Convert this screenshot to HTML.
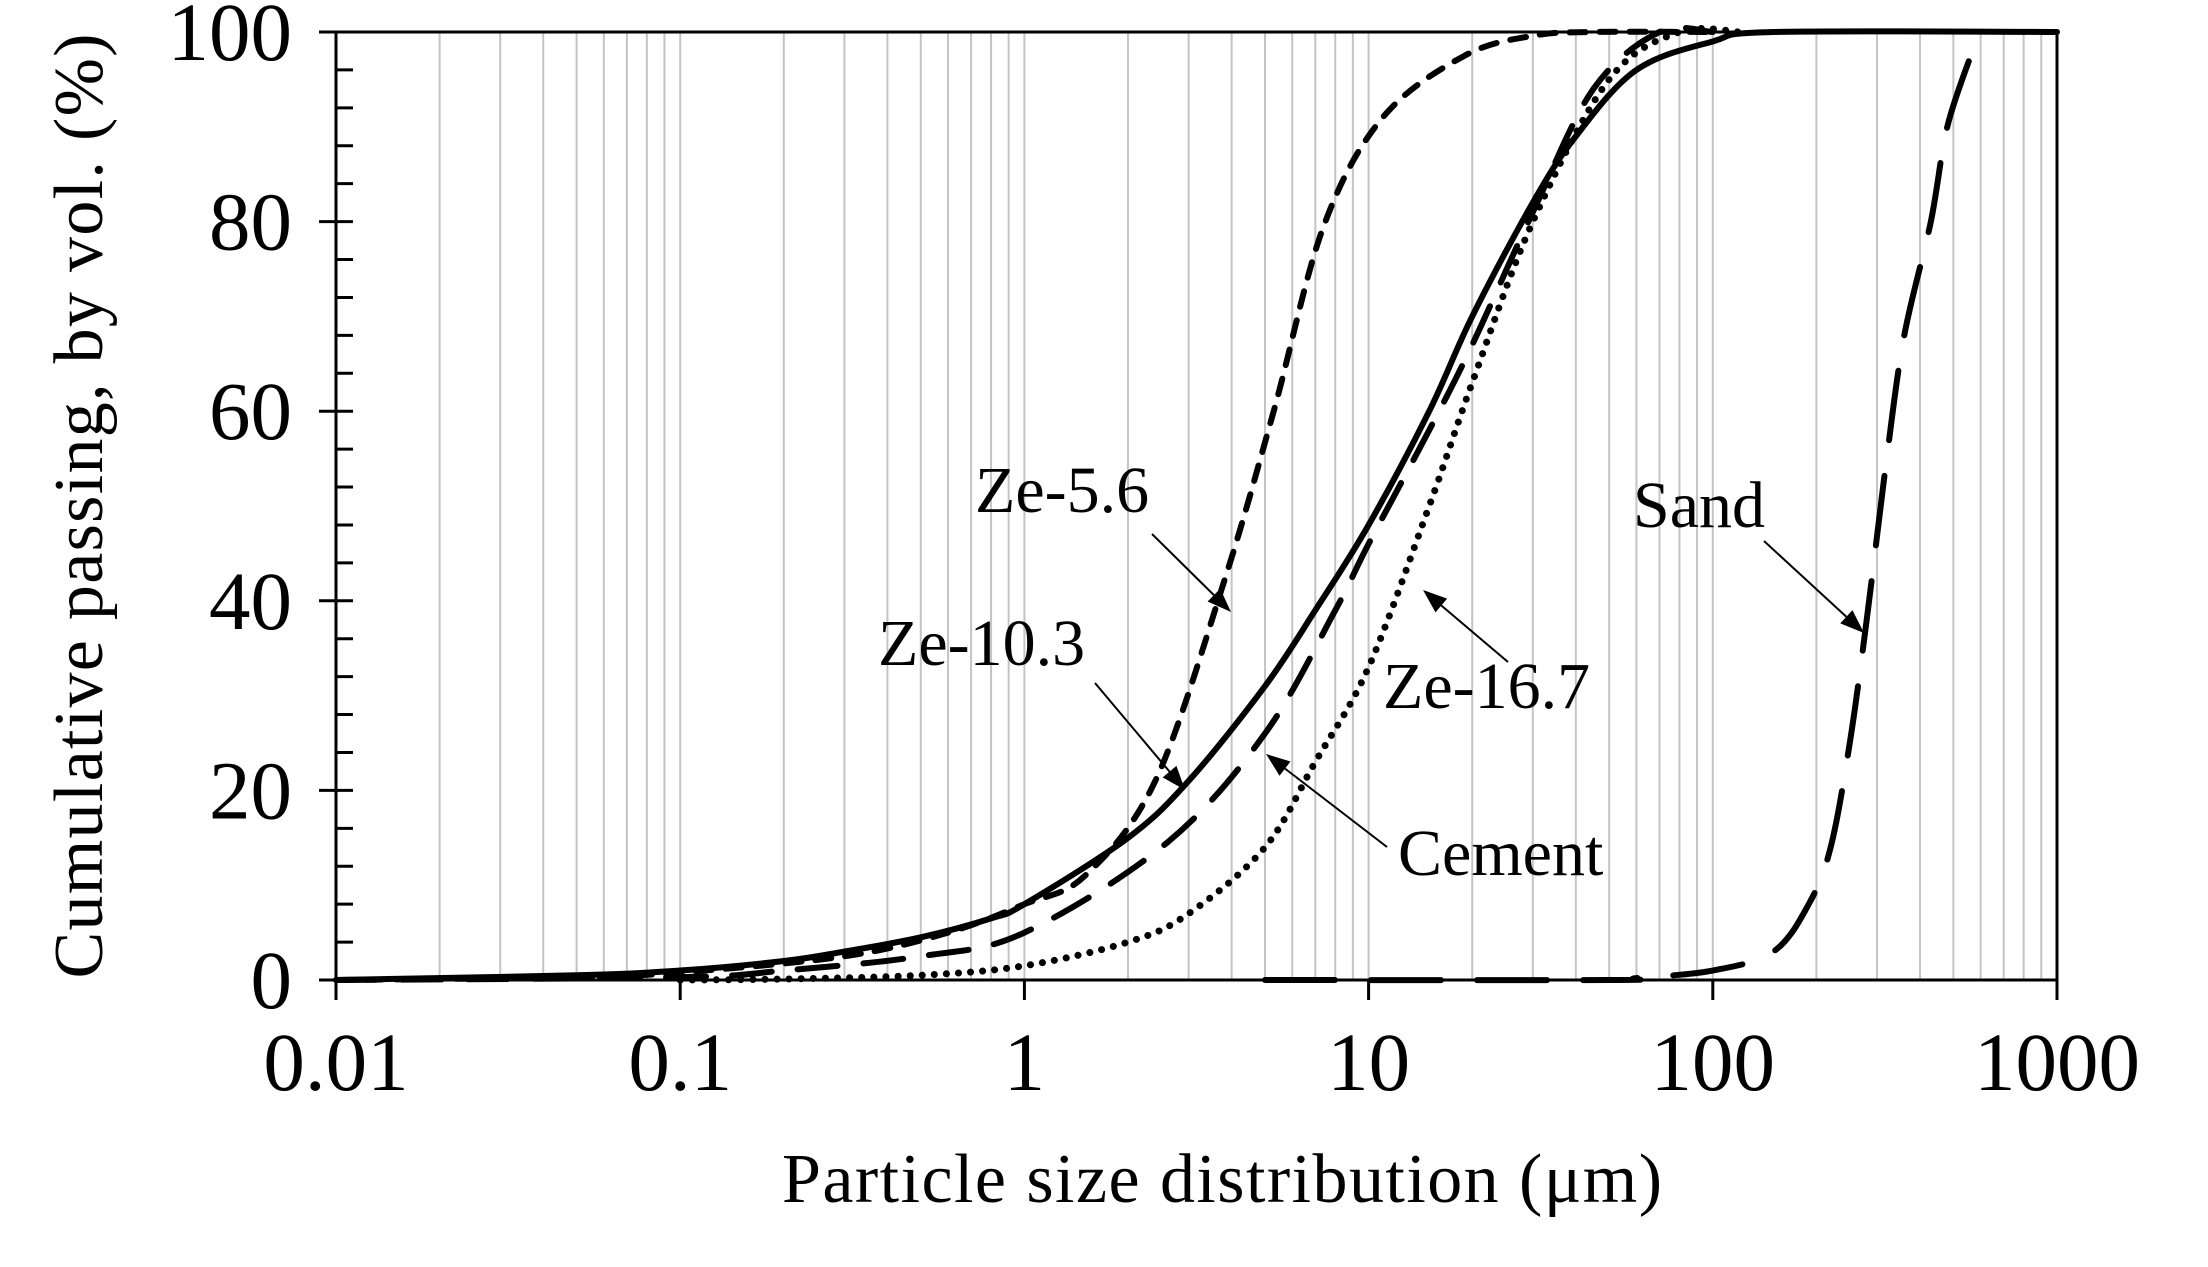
<!DOCTYPE html>
<html><head><meta charset="utf-8"><style>
html,body{margin:0;padding:0;background:#fff}
svg{display:block}
text{font-family:"Liberation Serif",serif;fill:#000}
</style></head><body>
<svg id="s" width="2208" height="1267" viewBox="0 0 2208 1267" xmlns="http://www.w3.org/2000/svg"></svg>
<script>
const L=336,R=2057,T=32,B=980;
const X=v=>L+(Math.log10(v)+2)*(R-L)/5;
const Y=v=>B-v*(B-T)/100;
let h='';
for(let d=-2;d<3;d++)for(let k=1;k<=9;k++){const v=k*Math.pow(10,d);if(d==-2&&k==1)continue;const x=X(v);h+=`<line x1="${x}" y1="${T}" x2="${x}" y2="${B}" stroke="#c4c4c4" stroke-width="2"/>`;}
h+=`<line x1="${L}" y1="${T}" x2="${R}" y2="${T}" stroke="#000" stroke-width="3"/>`;
h+=`<line x1="${L}" y1="${B}" x2="${R}" y2="${B}" stroke="#000" stroke-width="3"/>`;
h+=`<line x1="${L}" y1="${T}" x2="${L}" y2="${B}" stroke="#000" stroke-width="3"/>`;
h+=`<line x1="${R}" y1="${T}" x2="${R}" y2="${B+20}" stroke="#000" stroke-width="3"/>`;
for(let v=0;v<=100;v+=4){const y=Y(v);if(v%20==0)h+=`<line x1="${L-17}" y1="${y}" x2="${L+17}" y2="${y}" stroke="#000" stroke-width="3"/>`;else h+=`<line x1="${L}" y1="${y}" x2="${L+17}" y2="${y}" stroke="#000" stroke-width="3"/>`;}
for(let v=0;v<=100;v+=20)h+=`<text x="${L-44}" y="${Y(v)+28}" font-size="83" text-anchor="end">${v}</text>`;
const xl=['0.01','0.1','1','10','100','1000'];
xl.forEach((t,i)=>{const x=L+i*(R-L)/5;h+=`<line x1="${x}" y1="${B}" x2="${x}" y2="${B+20}" stroke="#000" stroke-width="3"/>`;h+=`<text x="${x}" y="${B+110}" font-size="83" text-anchor="middle">${t}</text>`;});
h+=`<text x="1222" y="1202" font-size="70" text-anchor="middle" textLength="880">Particle size distribution (μm)</text>`;
h+=`<text transform="translate(102,506) rotate(-90)" font-size="70" text-anchor="middle" textLength="945">Cumulative passing, by vol. (%)</text>`;
function path(pts){let p=pts.map(q=>[X(q[0]),Y(q[1])]);let d=`M${p[0][0]},${p[0][1]}`;
for(let i=0;i<p.length-1;i++){const p0=p[i-1]||p[i],p1=p[i],p2=p[i+1],p3=p[i+2]||p2;
d+=` C${p1[0]+(p2[0]-p0[0])/6},${p1[1]+(p2[1]-p0[1])/6} ${p2[0]-(p3[0]-p1[0])/6},${p2[1]-(p3[1]-p1[1])/6} ${p2[0]},${p2[1]}`;}return d;}
function S(pts,dash,w){h+=`<path d="${path(pts)}" fill="none" stroke="#000" stroke-width="${w}" stroke-dasharray="${dash}" stroke-linecap="round" stroke-linejoin="round"/>`;}
S([[0.01,0],[0.05,0.3],[0.1,0.8],[0.3,2.5],[0.6,5],[1,8],[1.5,11],[2.4,21],[3.8,42],[5.3,60],[7.4,79.5],[11,91],[19,97.5],[30,99.6],[45,100],[100,100]],"16 14",6);
S([[0.01,0],[0.05,0.5],[0.1,1],[0.2,2],[0.3,3],[0.5,4.5],[0.8,6.5],[1,8],[2,15],[3,21],[5,31],[7,39],[10,48],[15,60],[20,70],[30,82],[40,89],[60,96],[100,99],[150,100],[1000,100]],"none",6);
S([[0.01,0],[0.1,0.3],[0.2,1],[0.5,2.5],[1,5],[2.6,14.5],[5,26],[8,39],[10,46],[15,58],[20,67],[30,81],[45,94],[70,100],[100,100]],"40 26",6);
S([[0.1,0],[0.2,0.1],[0.5,0.5],[1,1.5],[2,4],[3,7],[5,14],[7,23],[10,33],[15,50],[20,63],[30,80],[50,95],[80,100],[120,100]],"0.1 12",7);
S([[5,0],[50,0],[60,0.2],[100,1],[150,3],[190,8],[220,14],[250,25],[280,38],[320,55],[360,68],[430,80],[480,90],[568,98]],"70 36",6);
function A(x1,y1,x2,y2){const a=Math.atan2(y2-y1,x2-x1),l=24,w=9;
h+=`<line x1="${x1}" y1="${y1}" x2="${x2-l*Math.cos(a)}" y2="${y2-l*Math.sin(a)}" stroke="#000" stroke-width="2"/>`;
h+=`<polygon points="${x2},${y2} ${x2-l*Math.cos(a)+w*Math.sin(a)},${y2-l*Math.sin(a)-w*Math.cos(a)} ${x2-l*Math.cos(a)-w*Math.sin(a)},${y2-l*Math.sin(a)+w*Math.cos(a)}" fill="#000"/>`;}
h+=`<text x="975" y="512" font-size="66">Ze-5.6</text>`;A(1152,534,1231,612);
h+=`<text x="878" y="665" font-size="66">Ze-10.3</text>`;A(1095,683,1185,790);
h+=`<text x="1633" y="527" font-size="66">Sand</text>`;A(1764,541,1864,633);
h+=`<text x="1383" y="708" font-size="66">Ze-16.7</text>`;A(1508,662,1423,590);
h+=`<text x="1398" y="875" font-size="66">Cement</text>`;A(1387,847,1266,754);
document.getElementById('s').innerHTML=h;
</script>
</body></html>
